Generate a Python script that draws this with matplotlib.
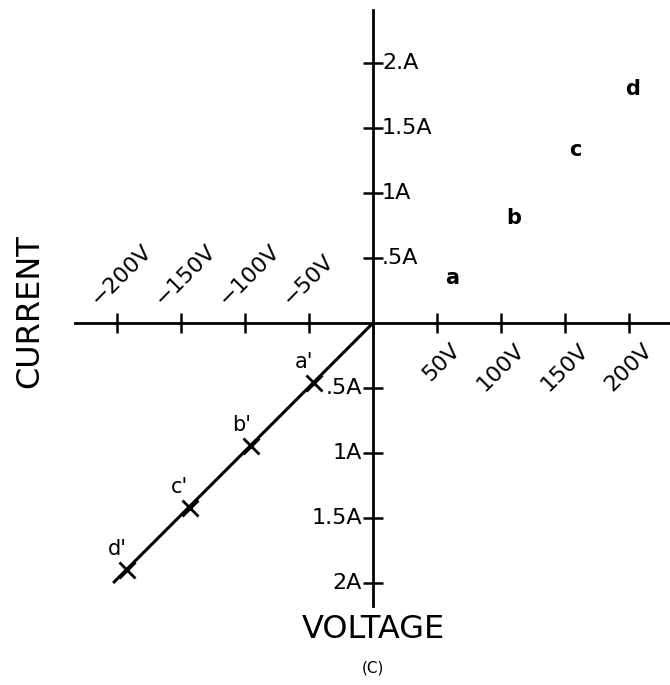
import matplotlib.pyplot as plt

# axis ticks
volt_neg = [-200, -150, -100, -50]
volt_neg_labels = ['\u2212200V', '\u2212150V', '\u2212100V', '\u221250V']
volt_pos = [50, 100, 150, 200]
volt_pos_labels = ['50V', '100V', '150V', '200V']
amp_pos = [0.5, 1.0, 1.5, 2.0]
amp_pos_labels = ['.5A', '1A', '1.5A', '2.A']
amp_neg = [-0.5, -1.0, -1.5, -2.0]
amp_neg_labels = ['.5A', '1A', '1.5A', '2A']

# letters in the first quadrant
pos_names = ['a', 'b', 'c', 'd']
pos_v = [62, 110, 158, 203]
pos_i = [0.35, 0.81, 1.33, 1.80]

# marked points on the line in the third quadrant
neg_names = ["a'", "b'", "c'", "d'"]
neg_v = [-46, -95, -143, -192]
neg_i = [-0.46, -0.95, -1.42, -1.90]
line_v = [0, -203]
line_i = [0, -2.0]

FONT = 'DejaVu Sans'

fig = plt.figure(figsize=(6.7, 6.85), dpi=100)
ax = fig.add_axes([0, 0, 1, 1])
ax.set_xlim(-291.4, 232.0)
ax.set_ylim(-2.785, 2.485)

for s in ['top', 'right']:
    ax.spines[s].set_visible(False)
ax.spines['left'].set_position(('data', 0))
ax.spines['bottom'].set_position(('data', 0))
ax.spines['left'].set_bounds(-2.18, 2.41)
ax.spines['bottom'].set_bounds(-233, 232)
ax.spines['left'].set_linewidth(2)
ax.spines['bottom'].set_linewidth(2)

ax.set_xticks(volt_neg + volt_pos)
ax.set_yticks(amp_pos + amp_neg)
ax.set_xticklabels([])
ax.set_yticklabels([])
ax.tick_params(direction='inout', length=15, width=1.8, color='black')

# tick labels
for v, lab in zip(volt_neg, volt_neg_labels):
    ax.annotate(lab, (v, 0), xytext=(-18, 17), textcoords='offset pixels',
                ha='left', va='baseline', rotation=45, rotation_mode='anchor',
                fontsize=16, family=FONT)
for v, lab in zip(volt_pos, volt_pos_labels):
    ax.annotate(lab, (v, 0), xytext=(13, -17), textcoords='offset pixels',
                ha='right', va='top', rotation=45, rotation_mode='anchor',
                fontsize=16, family=FONT)
for a, lab in zip(amp_pos, amp_pos_labels):
    ax.annotate(lab, (0, a), xytext=(9, 0), textcoords='offset pixels',
                ha='left', va='center', fontsize=16, family=FONT)
for a, lab in zip(amp_neg, amp_neg_labels):
    ax.annotate(lab, (0, a), xytext=(-11, 0), textcoords='offset pixels',
                ha='right', va='center', fontsize=16, family=FONT)

# first quadrant letters
for n, v, i in zip(pos_names, pos_v, pos_i):
    ax.text(v, i, n, ha='center', va='center', fontsize=15, family=FONT,
            fontweight='bold')

# third quadrant line with marks
ax.plot(line_v, line_i, color='black', lw=2.2, solid_capstyle='butt')
ax.plot(neg_v, neg_i, ls='none', marker='x', ms=11, mew=2, color='black')
for n, v, i in zip(neg_names, neg_v, neg_i):
    ax.annotate(n, (v, i), xytext=(-10, 21), textcoords='offset pixels',
                ha='center', va='center', fontsize=15, family=FONT)

# axis titles
fig.text(30 / 670, 1 - 311 / 685, 'CURRENT', rotation=90,
         ha='center', va='center', fontsize=23, family=FONT)
fig.text(373 / 670, 1 - 630 / 685, 'VOLTAGE',
         ha='center', va='center', fontsize=23, family=FONT)
fig.text(373 / 670, 1 - 668 / 685, '(C)',
         ha='center', va='center', fontsize=11, family=FONT)

fig.savefig('out.png', dpi=100)
